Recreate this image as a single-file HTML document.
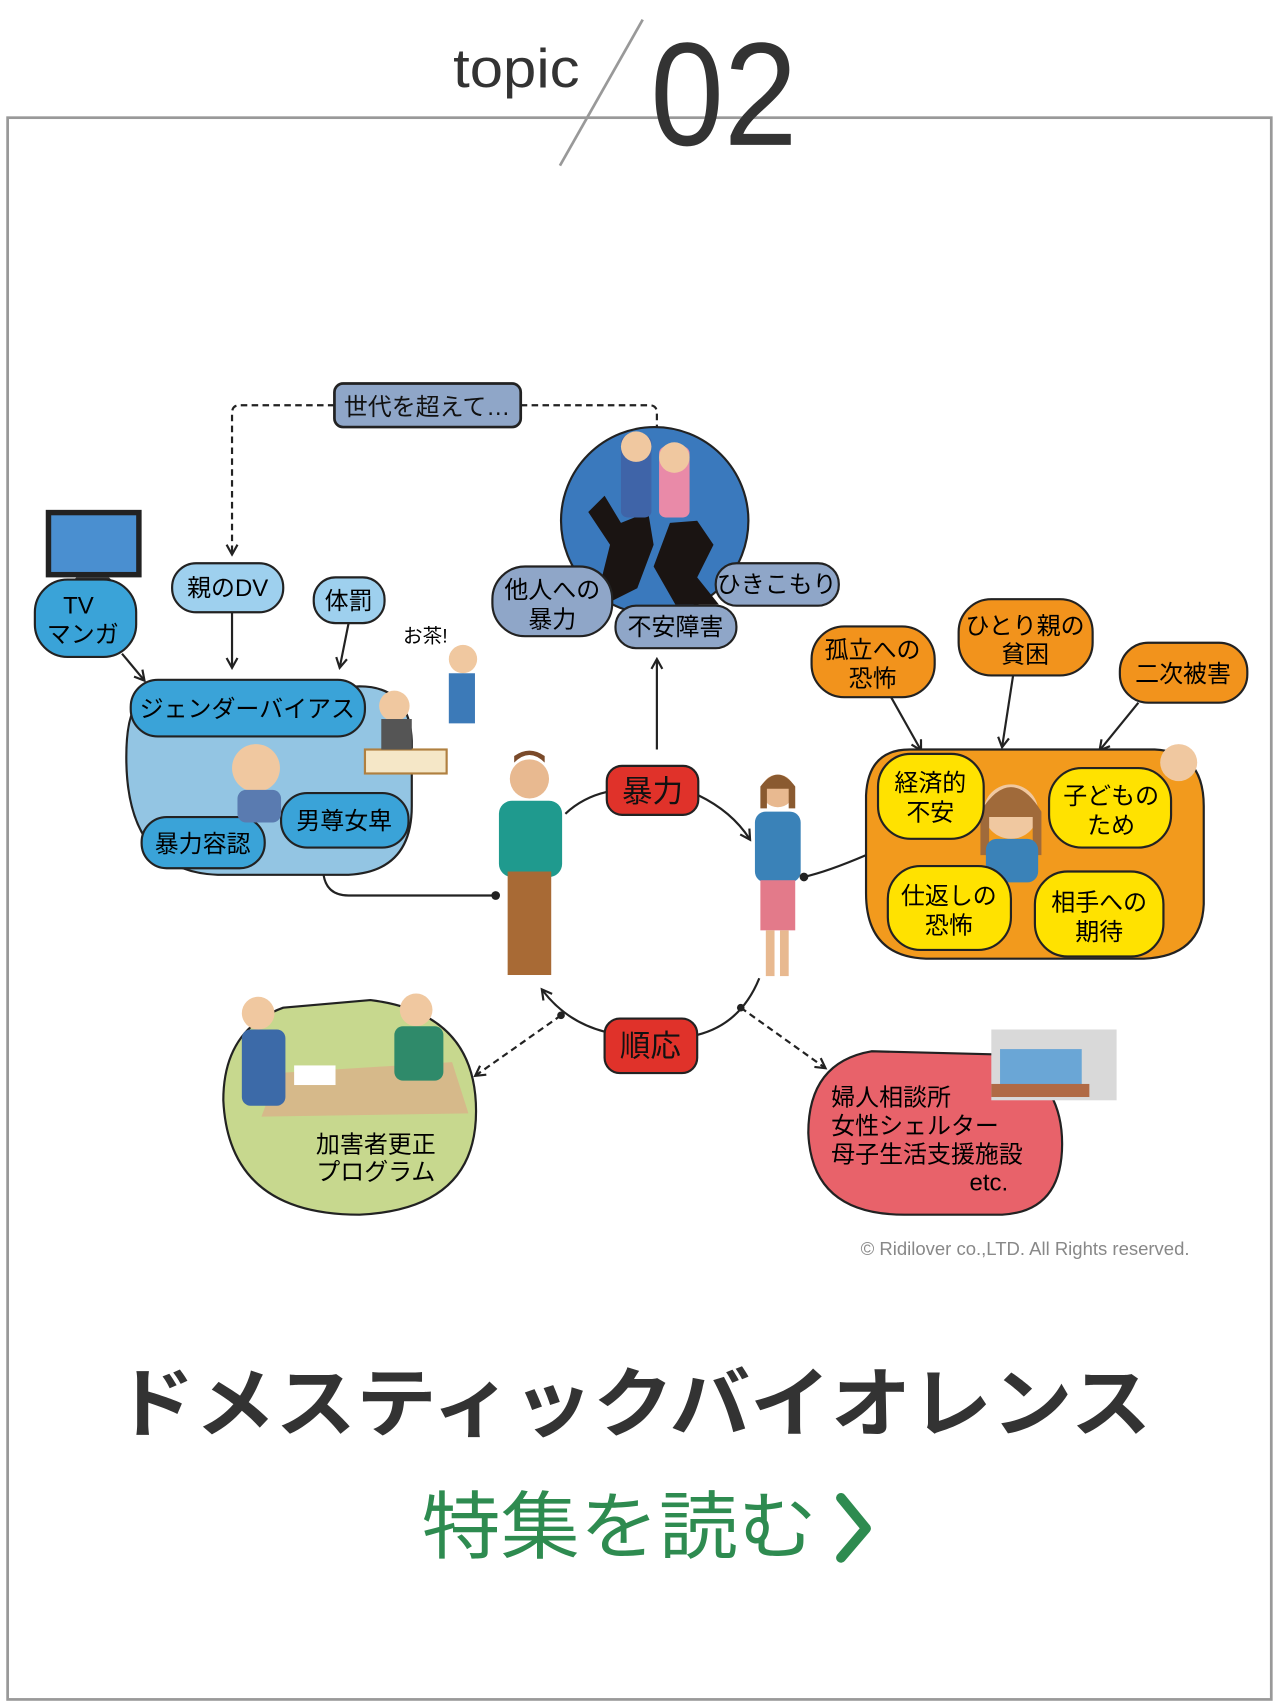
<!DOCTYPE html>
<html><head><meta charset="utf-8"><style>
html,body{margin:0;padding:0;background:#fff}
svg{display:block}
text{font-family:"Liberation Sans","Noto Sans CJK JP",sans-serif}
</style></head><body>
<svg width="1280" height="1706" viewBox="0 0 1175 1566" xmlns="http://www.w3.org/2000/svg">
<defs>
<marker id="ar" markerWidth="12" markerHeight="12" refX="9" refY="6" orient="auto" markerUnits="userSpaceOnUse"><path d="M1,1 L10,6 L1,11" fill="none" stroke="#222" stroke-width="2"/></marker>
</defs>
<!-- header -->
<rect x="7" y="108" width="1160" height="1452" fill="none" stroke="#999" stroke-width="2.5"/>
<text x="416" y="80" font-size="50" fill="#333" textLength="116" lengthAdjust="spacingAndGlyphs">topic</text>
<line x1="590" y1="18" x2="514" y2="152" stroke="#999" stroke-width="2.5"/>
<text x="597" y="133" font-size="135" fill="#333" textLength="135" lengthAdjust="spacingAndGlyphs">02</text>

<!-- dashed top connector -->
<path d="M307,372 H220 q-7,0 -7,7 V508" fill="none" stroke="#222" stroke-width="2" stroke-dasharray="6,4" marker-end="url(#ar)"/>
<path d="M478,372 H596 q7,0 7,7 V397" fill="none" stroke="#222" stroke-width="2" stroke-dasharray="6,4"/>
<rect x="307" y="352" width="171" height="40" rx="8" fill="#8fa6c8" stroke="#222" stroke-width="2.5"/>
<text x="392" y="381" font-size="22" text-anchor="middle" fill="#111">世代を超えて…</text>

<!-- blue circle -->
<circle cx="601" cy="478" r="86" fill="#3a79bd" stroke="#222" stroke-width="2"/>
<path d="M545,560 L560,500 L540,470 L555,455 L570,480 L595,470 L600,500 L585,540 Z" fill="#1a1412"/>
<path d="M600,520 L615,480 L640,478 L655,500 L640,530 L660,555 L620,555 Z" fill="#1a1412"/>
<rect x="570" y="400" width="28" height="75" rx="6" fill="#3f64a8"/>
<circle cx="584" cy="410" r="14" fill="#f0c8a0"/>
<rect x="605" y="410" width="28" height="65" rx="6" fill="#e98aa8"/>
<circle cx="619" cy="420" r="14" fill="#f0c8a0"/>
<rect x="452" y="520" width="110" height="64" rx="30" fill="#8fa6c8" stroke="#222" stroke-width="2"/>
<text x="507" y="549" font-size="22" text-anchor="middle">他人への</text>
<text x="507" y="576" font-size="22" text-anchor="middle">暴力</text>
<rect x="657" y="517" width="113" height="39" rx="19" fill="#8fa6c8" stroke="#222" stroke-width="2"/>
<text x="713" y="544" font-size="22" text-anchor="middle">ひきこもり</text>
<rect x="565" y="556" width="111" height="39" rx="19" fill="#8fa6c8" stroke="#222" stroke-width="2"/>
<text x="620" y="583" font-size="22" text-anchor="middle">不安障害</text>
<line x1="603" y1="688" x2="603" y2="606" stroke="#222" stroke-width="2" marker-end="url(#ar)"/>

<!-- left cluster -->
<rect x="42" y="468" width="88" height="62" fill="#222"/>
<rect x="47" y="473" width="78" height="52" fill="#4a8fd0"/>
<path d="M70,530 h30 l8,8 h-46 z" fill="#333"/>
<rect x="32" y="532" width="93" height="71" rx="30" fill="#3aa3d8" stroke="#222" stroke-width="2"/>
<text x="72" y="563" font-size="22" text-anchor="middle">TV</text>
<text x="76" y="590" font-size="22" text-anchor="middle">マンガ</text>
<rect x="158" y="517" width="102" height="45" rx="22" fill="#9ed0ee" stroke="#222" stroke-width="2"/>
<text x="209" y="547" font-size="22" text-anchor="middle">親のDV</text>
<rect x="288" y="530" width="65" height="42" rx="20" fill="#9ed0ee" stroke="#222" stroke-width="2"/>
<text x="320" y="559" font-size="22" text-anchor="middle">体罰</text>
<path d="M112,600 L132,624" stroke="#222" stroke-width="2" marker-end="url(#ar)"/>
<path d="M213,562 L213,612" stroke="#222" stroke-width="2" marker-end="url(#ar)"/>
<path d="M320,572 L312,612" stroke="#222" stroke-width="2" marker-end="url(#ar)"/>
<path d="M135,640 Q115,645 116,700 Q118,800 200,803 L320,803 Q378,800 378,740 L378,680 Q376,630 330,630 Z" fill="#93c5e3" stroke="#222" stroke-width="2"/>
<rect x="120" y="624" width="215" height="52" rx="25" fill="#3aa3d8" stroke="#222" stroke-width="2"/>
<text x="227" y="658" font-size="22" text-anchor="middle">ジェンダーバイアス</text>
<rect x="258" y="728" width="117" height="50" rx="24" fill="#3aa3d8" stroke="#222" stroke-width="2"/>
<text x="316" y="761" font-size="22" text-anchor="middle">男尊女卑</text>
<rect x="130" y="750" width="113" height="47" rx="23" fill="#3aa3d8" stroke="#222" stroke-width="2"/>
<text x="186" y="782" font-size="22" text-anchor="middle">暴力容認</text>
<circle cx="235" cy="705" r="22" fill="#f0c8a0"/>
<rect x="218" y="725" width="40" height="30" rx="8" fill="#5a7bb0"/>
<!-- office -->
<rect x="335" y="688" width="75" height="22" fill="#f5e7c7" stroke="#b08040" stroke-width="2"/>
<circle cx="362" cy="648" r="14" fill="#f0c8a0"/>
<rect x="350" y="660" width="28" height="28" fill="#555"/>
<circle cx="425" cy="605" r="13" fill="#f0c8a0"/>
<rect x="412" y="618" width="24" height="46" fill="#3c7ab8"/>
<text x="370" y="590" font-size="18">お茶!</text>
<path d="M297,803 Q300,822 320,822 L453,822" fill="none" stroke="#222" stroke-width="2"/>
<circle cx="455" cy="822" r="4" fill="#222"/>

<!-- center figures -->
<circle cx="486" cy="715" r="18" fill="#e8b990"/>
<path d="M472,700 q14,-14 28,0 v-6 q-14,-10 -28,0z" fill="#7a4a2a"/>
<rect x="458" y="735" width="58" height="70" rx="12" fill="#1f9a8e"/>
<rect x="466" y="800" width="40" height="95" fill="#a86a35"/>
<circle cx="714" cy="726" r="15" fill="#e8b990"/>
<path d="M698,722 q16,-22 32,0 v20 h-6 v-18 h-20 v18 h-6z" fill="#8a5a30"/>
<rect x="693" y="745" width="42" height="65" rx="10" fill="#3a82b8"/>
<rect x="698" y="808" width="32" height="46" fill="#e37a8a"/>
<rect x="703" y="854" width="8" height="42" fill="#e8b990"/><rect x="716" y="854" width="8" height="42" fill="#e8b990"/>

<!-- cycle -->
<path d="M519,747 Q535,732 557,727" fill="none" stroke="#222" stroke-width="2"/>
<path d="M641,730 Q672,745 688,770" fill="none" stroke="#222" stroke-width="2" marker-end="url(#ar)"/>
<rect x="557" y="703" width="84" height="45" rx="14" fill="#e0322a" stroke="#222" stroke-width="2"/>
<text x="599" y="736" font-size="28" text-anchor="middle" fill="#111">暴力</text>
<path d="M697,898 Q680,940 640,950" fill="none" stroke="#222" stroke-width="2"/>
<path d="M555,947 Q520,938 498,909" fill="none" stroke="#222" stroke-width="2" marker-end="url(#ar)"/>
<rect x="555" y="935" width="85" height="50" rx="14" fill="#e0322a" stroke="#222" stroke-width="2"/>
<text x="597" y="970" font-size="28" text-anchor="middle" fill="#111">順応</text>
<circle cx="515" cy="932" r="3.5" fill="#222"/>
<circle cx="680" cy="925" r="3.5" fill="#222"/>
<path d="M515,932 L437,987" stroke="#222" stroke-width="2" stroke-dasharray="6,4" marker-end="url(#ar)"/>
<path d="M680,925 L757,980" stroke="#222" stroke-width="2" stroke-dasharray="6,4" marker-end="url(#ar)"/>

<!-- right cluster -->
<rect x="745" y="575" width="113" height="65" rx="30" fill="#f2931c" stroke="#222" stroke-width="2"/>
<text x="801" y="604" font-size="22" text-anchor="middle">孤立への</text>
<text x="801" y="630" font-size="22" text-anchor="middle">恐怖</text>
<rect x="880" y="550" width="123" height="70" rx="30" fill="#f2931c" stroke="#222" stroke-width="2"/>
<text x="941" y="582" font-size="22" text-anchor="middle">ひとり親の</text>
<text x="941" y="608" font-size="22" text-anchor="middle">貧困</text>
<rect x="1028" y="590" width="117" height="55" rx="26" fill="#f2931c" stroke="#222" stroke-width="2"/>
<text x="1086" y="626" font-size="22" text-anchor="middle">二次被害</text>
<path d="M818,640 L845,688" stroke="#222" stroke-width="2" marker-end="url(#ar)"/>
<path d="M930,620 L920,685" stroke="#222" stroke-width="2" marker-end="url(#ar)"/>
<path d="M1045,645 L1010,688" stroke="#222" stroke-width="2" marker-end="url(#ar)"/>
<path d="M738,805 Q760,800 795,785" fill="none" stroke="#222" stroke-width="2"/>
<circle cx="738" cy="805" r="4" fill="#222"/>
<path d="M835,688 L1060,688 Q1105,690 1105,740 L1105,830 Q1103,878 1050,880 L850,880 Q795,878 795,820 L795,730 Q797,688 835,688 Z" fill="#f29a1d" stroke="#222" stroke-width="2"/>
<circle cx="928" cy="745" r="25" fill="#f0c8a0"/>
<path d="M900,745 q28,-45 56,0 v40 h-8 v-35 h-40 v35 h-8z" fill="#a06a3a"/>
<rect x="905" y="770" width="48" height="40" rx="10" fill="#3a82b8"/>
<circle cx="1082" cy="700" r="17" fill="#f0c8a0"/>
<rect x="806" y="692" width="97" height="78" rx="30" fill="#ffe200" stroke="#222" stroke-width="2"/>
<text x="854" y="726" font-size="22" text-anchor="middle">経済的</text>
<text x="854" y="753" font-size="22" text-anchor="middle">不安</text>
<rect x="963" y="705" width="112" height="73" rx="30" fill="#ffe200" stroke="#222" stroke-width="2"/>
<text x="1020" y="738" font-size="22" text-anchor="middle">子どもの</text>
<text x="1020" y="765" font-size="22" text-anchor="middle">ため</text>
<rect x="815" y="795" width="113" height="77" rx="30" fill="#ffe200" stroke="#222" stroke-width="2"/>
<text x="871" y="830" font-size="22" text-anchor="middle">仕返しの</text>
<text x="871" y="857" font-size="22" text-anchor="middle">恐怖</text>
<rect x="950" y="800" width="118" height="78" rx="30" fill="#ffe200" stroke="#222" stroke-width="2"/>
<text x="1009" y="836" font-size="22" text-anchor="middle">相手への</text>
<text x="1009" y="863" font-size="22" text-anchor="middle">期待</text>

<!-- bottom blobs -->
<path d="M260,925 Q205,945 205,1010 Q210,1115 330,1115 Q437,1110 437,1020 Q437,930 340,918 Z" fill="#c7d88e" stroke="#222" stroke-width="2"/>
<path d="M255,985 L415,975 L430,1022 L240,1025 Z" fill="#d6b98a"/>
<rect x="270" y="978" width="38" height="18" fill="#fff"/>
<circle cx="237" cy="930" r="15" fill="#f0c8a0"/>
<rect x="222" y="945" width="40" height="70" rx="8" fill="#3c6aa8"/>
<circle cx="382" cy="927" r="15" fill="#f0c8a0"/>
<rect x="362" y="942" width="45" height="50" rx="8" fill="#2f8a6a"/>
<text x="345" y="1058" font-size="22" text-anchor="middle">加害者更正</text>
<text x="345" y="1083" font-size="22" text-anchor="middle">プログラム</text>
<path d="M800,965 Q742,975 742,1040 Q745,1115 830,1115 L920,1115 Q975,1112 975,1050 Q975,990 920,968 Z" fill="#e8626a" stroke="#222" stroke-width="2"/>
<rect x="910" y="945" width="115" height="65" fill="#d9d9d9"/>
<rect x="918" y="963" width="75" height="38" fill="#6aa6d6"/>
<rect x="910" y="995" width="90" height="12" fill="#b06a45"/>
<text x="763" y="1015" font-size="22">婦人相談所</text>
<text x="763" y="1041" font-size="22">女性シェルター</text>
<text x="763" y="1067" font-size="22">母子生活支援施設</text>
<text x="890" y="1093" font-size="22">etc.</text>
<text x="790" y="1152" font-size="17" fill="#888">© Ridilover co.,LTD. All Rights reserved.</text>

<!-- titles -->
<text x="581" y="1313" font-size="70" font-weight="bold" fill="#333" text-anchor="middle" textLength="952" lengthAdjust="spacingAndGlyphs">ドメスティックバイオレンス</text>
<text x="387" y="1425" font-size="68" fill="#2e8b50" textLength="363" lengthAdjust="spacingAndGlyphs">特集を読む</text>
<path d="M772,1375 L795,1403 L772,1430" fill="none" stroke="#2e8b50" stroke-width="9" stroke-linecap="round" stroke-linejoin="round"/>
</svg>
</body></html>
